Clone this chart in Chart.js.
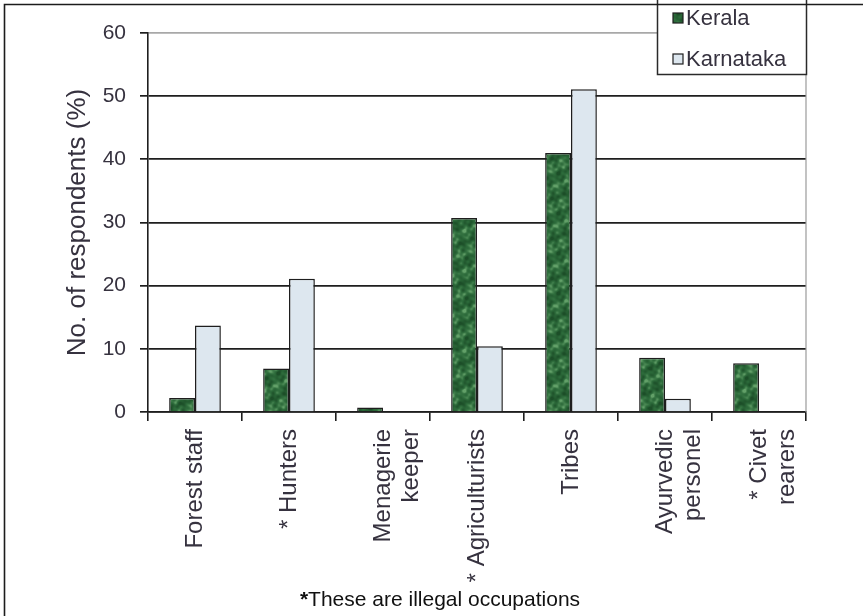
<!DOCTYPE html>
<html>
<head>
<meta charset="utf-8">
<title>Respondents by occupation</title>
<script src="https://cdn.jsdelivr.net/npm/chart.js@4.4.1/dist/chart.umd.min.js"></script>
<style>
  html, body { margin: 0; padding: 0; background: #ffffff; }
  #wrap { width: 863px; height: 616px; position: relative; }
</style>
</head>
<body>
<div id="wrap"><canvas id="chart" width="863" height="616"></canvas></div>
<script>
// Occupation categories (multi-line labels), * marks illegal occupations
const categories = [
  ['Forest staff'],
  ['* Hunters'],
  ['Menagerie', 'keeper'],
  ['* Agriculturists'],
  ['Tribes'],
  ['Ayurvedic', 'personel'],
  ['* Civet', 'rearers']
];

// Share of respondents (%) per state
const seriesNames = ['Kerala', 'Karnataka'];
const keralaValues = [2.2, 6.9, 0.7, 30.7, 41.0, 8.6, 7.7];
const karnatakaValues = [13.7, 21.1, 0, 10.4, 51.1, 2.1, 0];

// Value axis
const yMin = 0;
const yMax = 60;
const yStep = 10;

const yTitle = 'No. of respondents (%)';
const footnote = 'These are illegal occupations';

const FONT = '"Liberation Sans", Arial, Helvetica, sans-serif';
const TEXT = '#36323f';
const INK = '#1e1e1e';

const canvas = document.getElementById('chart');
const ctx = canvas.getContext('2d');

// Mottled dark-green fill used for the Kerala bars (smooth tiling wave texture)
function mottledGreen(context) {
  const size = 40;
  const c = document.createElement('canvas');
  c.width = size; c.height = size;
  const g = c.getContext('2d');
  const img = g.createImageData(size, size);
  const w = (2 * Math.PI) / size;
  const waves = [[1, 2, 0.3], [3, -1, 1.1], [2, 5, 2.0], [5, 3, 0.7], [-4, 7, 1.6], [7, 2, 2.6]];
  const dark = [28, 78, 40], mid = [44, 106, 58], light = [98, 160, 104];
  for (let y = 0; y < size; y++) {
    for (let x = 0; x < size; x++) {
      let v = 0;
      waves.forEach(([kx, ky, p], i) => { v += Math.sin(w * (kx * x + ky * y) + p) / (1 + i * 0.35); });
      const t = Math.max(-1, Math.min(1, v / 2.2));
      let col;
      if (t >= 0) col = mid.map((m, j) => m + (light[j] - m) * Math.pow(t, 1.6));
      else col = mid.map((m, j) => m + (dark[j] - m) * (-t));
      const o = (y * size + x) * 4;
      img.data[o] = col[0]; img.data[o + 1] = col[1]; img.data[o + 2] = col[2]; img.data[o + 3] = 255;
    }
  }
  g.putImageData(img, 0, 0);
  return context.createPattern(c, 'repeat');
}

const keralaFill = mottledGreen(ctx);
const karnatakaFill = '#dde7ef';

// Frame, plot border, legend box and footnote
const decorations = {
  id: 'decorations',
  beforeDatasetsDraw(chart) {
    const { ctx, chartArea } = chart;
    ctx.save();
    ctx.strokeStyle = '#9a9a9a';
    ctx.lineWidth = 1.2;
    ctx.beginPath();
    ctx.moveTo(chartArea.right, chartArea.top);
    ctx.lineTo(chartArea.right, chartArea.bottom);
    ctx.stroke();
    ctx.restore();
  },
  afterDraw(chart) {
    const { ctx } = chart;
    ctx.save();

    // legend box
    const lx = 657, ly = -3, lw = 149, lh = 77;
    ctx.fillStyle = '#ffffff';
    ctx.fillRect(lx, ly, lw, lh);
    ctx.strokeStyle = '#2a2a2a';
    ctx.lineWidth = 1.5;
    ctx.strokeRect(lx + 0.5, ly + 0.5, lw, lh);

    const fills = [keralaFill, karnatakaFill];
    const rows = [18, 59];
    chart.data.datasets.forEach((ds, i) => {
      const cy = rows[i];
      ctx.fillStyle = fills[i];
      ctx.fillRect(673, cy - 5, 10, 10);
      ctx.strokeStyle = INK;
      ctx.lineWidth = 1.2;
      ctx.strokeRect(673, cy - 5, 10, 10);
      ctx.fillStyle = TEXT;
      ctx.font = '22px ' + FONT;
      ctx.textBaseline = 'middle';
      ctx.textAlign = 'left';
      ctx.fillText(ds.label, 686, cy + 1);
    });

    // outer frame (top and left edges)
    ctx.strokeStyle = '#1c1c1c';
    ctx.lineWidth = 1.6;
    ctx.beginPath();
    ctx.moveTo(4.5, 616);
    ctx.lineTo(4.5, 4.5);
    ctx.lineTo(863, 4.5);
    ctx.stroke();

    // footnote
    ctx.textBaseline = 'alphabetic';
    ctx.textAlign = 'left';
    ctx.font = 'bold 21px ' + FONT;
    const starW = ctx.measureText('*').width;
    ctx.font = '21px ' + FONT;
    const restW = ctx.measureText(footnote).width;
    const x0 = 440 - (starW + restW) / 2;
    ctx.fillStyle = '#111111';
    ctx.font = 'bold 21px ' + FONT;
    ctx.fillText('*', x0, 606);
    ctx.font = '21px ' + FONT;
    ctx.fillText(footnote, x0 + starW, 606);
    ctx.restore();
  }
};

new Chart(ctx, {
  type: 'bar',
  data: {
    labels: categories,
    datasets: [
      {
        label: seriesNames[0],
        data: keralaValues,
        backgroundColor: keralaFill,
        borderColor: INK,
        borderWidth: 1.5,
        barPercentage: 1.0,
        categoryPercentage: 0.55
      },
      {
        label: seriesNames[1],
        data: karnatakaValues,
        backgroundColor: karnatakaFill,
        borderColor: INK,
        borderWidth: 1.5,
        barPercentage: 1.0,
        categoryPercentage: 0.55
      }
    ]
  },
  options: {
    responsive: false,
    animation: false,
    devicePixelRatio: 1,
    layout: { padding: { left: 58, right: 57, top: 33, bottom: 0 } },
    plugins: {
      legend: { display: false },
      tooltip: { enabled: false },
      title: { display: false }
    },
    scales: {
      x: {
        afterFit(scale) { scale.height = 204; },
        grid: {
          offset: true,
          drawOnChartArea: false,
          drawTicks: true,
          tickLength: 9,
          color: INK,
          lineWidth: 1.6
        },
        border: { display: true, color: INK, width: 1.6 },
        ticks: {
          autoSkip: false,
          minRotation: 90,
          maxRotation: 90,
          padding: 8,
          color: TEXT,
          font: { family: FONT, size: 24, lineHeight: 1.17 }
        }
      },
      y: {
        min: yMin,
        max: yMax,
        afterFit(scale) { scale.width = 90; },
        ticks: {
          stepSize: yStep,
          padding: 14,
          color: TEXT,
          font: { family: FONT, size: 21 }
        },
        grid: {
          drawTicks: true,
          tickLength: 8,
          lineWidth: 1.7,
          color: (c) => (c.tick && c.tick.value === yMax ? '#a8a8a8' : INK),
          tickColor: INK
        },
        border: { display: true, color: INK, width: 1.6 },
        title: {
          display: true,
          text: yTitle,
          color: TEXT,
          padding: { top: 4, bottom: 4 },
          font: { family: FONT, size: 26 }
        }
      }
    }
  },
  plugins: [decorations]
});
</script>
</body>
</html>
